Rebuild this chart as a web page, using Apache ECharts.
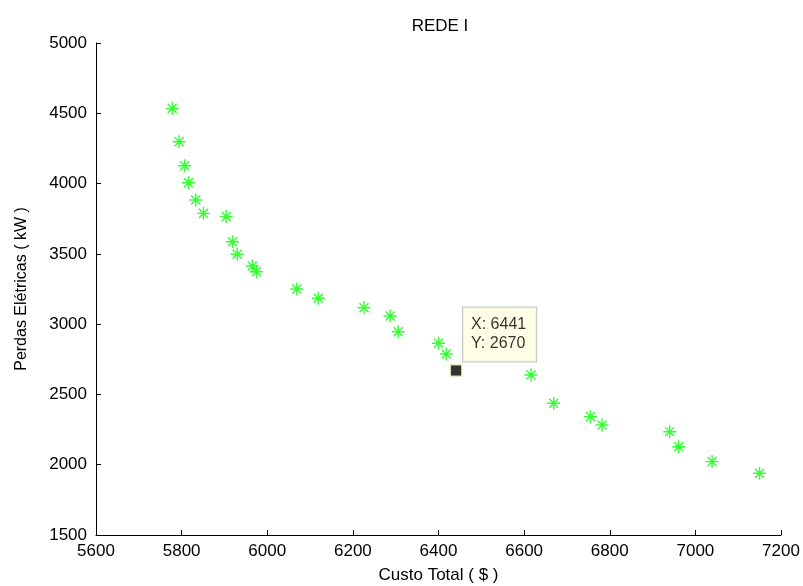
<!DOCTYPE html>
<html><head><meta charset="utf-8">
<script src="https://cdn.jsdelivr.net/npm/echarts@6/dist/echarts.min.js"></script>
<style>html,body{margin:0;padding:0;background:#fff}#c{width:803px;height:586px}</style>
</head><body><div id="c"></div>
<script>
var costs  = [5778, 5794, 5807, 5816, 5833, 5851, 5904, 5919, 5930, 5965, 5975, 6069, 6119, 6226, 6287, 6306, 6400, 6418, 6616, 6669, 6755, 6782, 6940, 6961, 7039, 7150];
var losses = [4535, 4298, 4127, 4006, 3883, 3788, 3765, 3586, 3497, 3414, 3373, 3250, 3184, 3117, 3058, 2946, 2864, 2788, 2638, 2437, 2342, 2283, 2235, 2128, 2022, 1939];
var tipX = 6441, tipY = 2670;
var xTicks = [5600, 7200, 200];
var yTicks = [1500, 5000, 500];

var pts = costs.map(function(c, i){ return [c, losses[i]]; });
var font = 'Liberation Sans, Arial, sans-serif';
var plain = function(v){ return String(v); };
var chart = echarts.init(document.getElementById('c'), null, {renderer: 'canvas'});
chart.setOption({
  animation: false,
  backgroundColor: '#fff',
  title: {text: 'REDE I', left: 435, top: 13, textAlign: 'center',
    textStyle: {fontFamily: font, fontSize: 17, fontWeight: 'normal', color: '#000'}},
  grid: {left: 96, right: 22, top: 43, bottom: 51, containLabel: false, outerBoundsMode: 'none'},
  xAxis: {type: 'value', min: xTicks[0], max: xTicks[1], interval: xTicks[2],
    name: 'Custo Total ( $ )', nameLocation: 'middle', nameGap: 32,
    nameTextStyle: {fontFamily: font, fontSize: 17, color: '#000'},
    axisLine: {show: true, lineStyle: {color: '#000', width: 1}},
    axisTick: {show: true, inside: true, length: 5, lineStyle: {color: '#000'}},
    axisLabel: {fontFamily: font, fontSize: 17, color: '#000', margin: 8, formatter: plain},
    splitLine: {show: false}},
  yAxis: {type: 'value', min: yTicks[0], max: yTicks[1], interval: yTicks[2],
    name: 'Perdas Elétricas ( kW )', nameLocation: 'middle', nameGap: 66,
    nameTextStyle: {fontFamily: font, fontSize: 16, color: '#000'},
    axisLine: {show: true, lineStyle: {color: '#000', width: 1}},
    axisTick: {show: true, inside: true, length: 5, lineStyle: {color: '#000'}},
    axisLabel: {fontFamily: font, fontSize: 17, color: '#000', margin: 9, formatter: plain},
    splitLine: {show: false}},
  series: [
    {type: 'scatter', data: pts,
     symbol: 'path://M0,-10L0,10M-10,0L10,0M-7,-7L7,7M-7,7L7,-7',
     symbolSize: 13,
     itemStyle: {color: 'rgba(0,0,0,0)', borderColor: '#00ff00', borderWidth: 1.4}},
    {type: 'scatter', data: [[tipX, tipY]], symbol: 'rect', symbolSize: 12, z: 5,
     itemStyle: {color: '#000', borderColor: '#ffffd8', borderWidth: 2},
     label: {show: true, position: [14, -56], align: 'left', verticalAlign: 'top',
       formatter: 'X: ' + tipX + '\nY: ' + tipY,
       fontFamily: font, fontSize: 16, lineHeight: 19, color: '#000',
       backgroundColor: '#ffffe1', borderColor: '#b5b5b5', borderWidth: 1,
       padding: [8, 10, 8, 8]}}
  ]
});
</script></body></html>
